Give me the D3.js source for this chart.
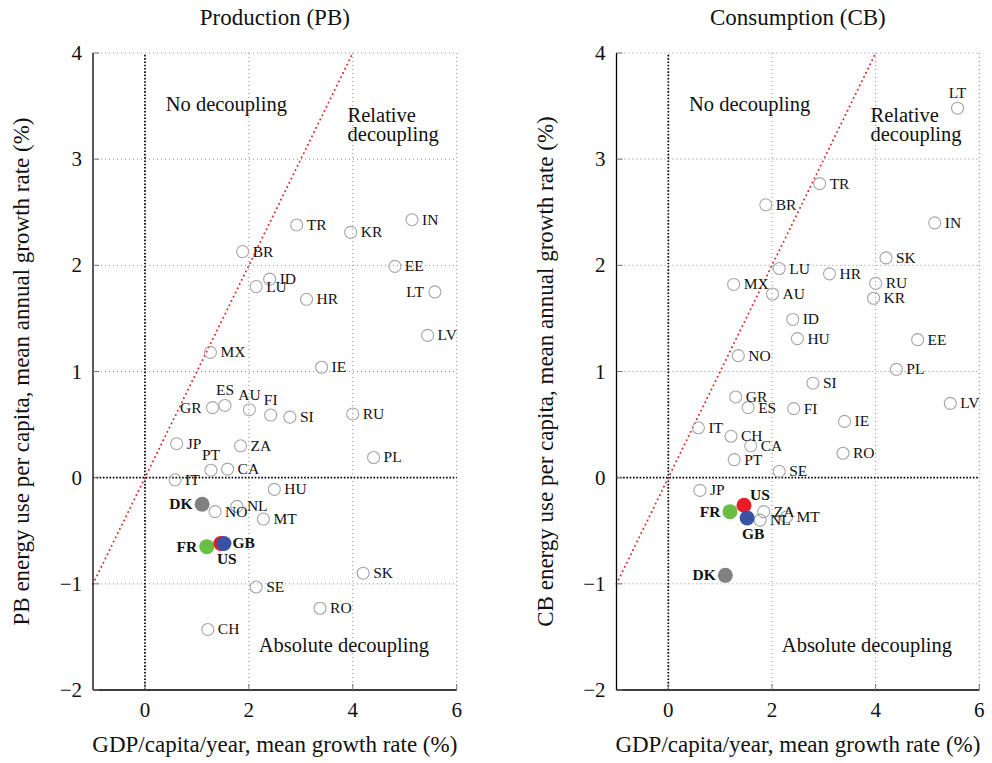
<!DOCTYPE html>
<html>
<head>
<meta charset="utf-8">
<script src="https://cdn.jsdelivr.net/npm/d3@7/dist/d3.min.js"></script>
<style>
  html, body { margin: 0; padding: 0; background: #fff; }
  svg { display: block; font-family: "Liberation Serif", "DejaVu Serif", serif; }
</style>
</head>
<body>
<svg id="chart" width="992" height="763"></svg>
<script>
// Country codes and their mean annual growth rates (%)
const countries = ["TR","KR","IN","BR","EE","ID","LU","HR","LT","LV","MX","IE",
                   "GR","ES","AU","FI","SI","RU","JP","ZA","PL","PT","CA","IT",
                   "HU","NO","NL","MT","SK","SE","RO","CH","DK","FR","US","GB"];
const gdpGrowth = [2.92, 3.96, 5.14, 1.88, 4.81, 2.40, 2.14, 3.11, 5.58, 5.44, 1.26, 3.40,
                   1.30, 1.54, 2.01, 2.42, 2.79, 4.00, 0.61, 1.84, 4.40, 1.27, 1.59, 0.58,
                   2.49, 1.35, 1.77, 2.28, 4.20, 2.14, 3.37, 1.21, 1.10, 1.19, 1.46, 1.52];
const pbGrowth  = [2.38, 2.31, 2.43, 2.13, 1.99, 1.87, 1.80, 1.68, 1.75, 1.34, 1.18, 1.04,
                   0.66, 0.68, 0.64, 0.59, 0.57, 0.60, 0.32, 0.30, 0.19, 0.07, 0.08, -0.02,
                   -0.11, -0.32, -0.27, -0.39, -0.90, -1.03, -1.23, -1.43, -0.25, -0.65, -0.62, -0.62];
const cbGrowth  = [2.77, 1.69, 2.40, 2.57, 1.30, 1.49, 1.97, 1.92, 3.48, 0.70, 1.82, 0.53,
                   0.76, 0.66, 1.73, 0.65, 0.89, 1.83, -0.12, -0.32, 1.02, 0.17, 0.30, 0.47,
                   1.31, 1.15, -0.40, -0.37, 2.07, 0.06, 0.23, 0.39, -0.92, -0.32, -0.26, -0.38];

// Highlighted countries, drawn as filled dots in this order
const highlighted = ["DK", "FR", "US", "GB"];
const highlightColors = ["#808080", "#6abd45", "#ec1c24", "#3953a4"];

const xDomain = [-1, 6];
const yDomain = [-2, 4];
const xTicks = [0, 2, 4, 6];
const yTicks = [-2, -1, 0, 1, 2, 3, 4];

const panelTitles = ["Production (PB)", "Consumption (CB)"];
const yTitles = ["PB energy use per capita, mean annual growth rate (%)",
                 "CB energy use per capita, mean annual growth rate (%)"];
const xTitle = "GDP/capita/year, mean growth rate (%)";

// Where each country's label sits relative to its dot (default: right)
const labelSides = [
  { LT: "left", ES: "above", AU: "above", FI: "above", PT: "above", GR: "left",
    DK: "left", FR: "left", US: "below", GB: "right" },
  { LT: "above", DK: "left", FR: "left", US: "aboveRight", GB: "below" }
];

const svg = d3.select("#chart");
const fmt = v => (v < 0 ? "\u2212" + Math.abs(v) : String(v));

const panels = [
  { left: 93,    right: 456.7, values: pbGrowth },
  { left: 616.5, right: 979.3, values: cbGrowth }
];
const plotTop = 53, plotBottom = 690;

panels.forEach((p, pi) => {
  const x = d3.scaleLinear().domain(xDomain).range([p.left, p.right]);
  const y = d3.scaleLinear().domain(yDomain).range([plotBottom, plotTop]);
  const g = svg.append("g");

  // grid lines (dotted gray)
  g.selectAll("line.vgrid").data(xTicks.filter(t => t !== 0)).enter().append("line")
    .attr("x1", d => x(d)).attr("x2", d => x(d)).attr("y1", y(yDomain[0])).attr("y2", y(yDomain[1]))
    .attr("stroke", "#8a8a8a").attr("stroke-width", 1).attr("stroke-dasharray", "1 3");
  g.selectAll("line.hgrid").data(yTicks.filter(t => t !== 0)).enter().append("line")
    .attr("x1", x(xDomain[0])).attr("x2", x(xDomain[1])).attr("y1", d => y(d)).attr("y2", d => y(d))
    .attr("stroke", "#8a8a8a").attr("stroke-width", 1).attr("stroke-dasharray", "1 3");

  // zero lines (dotted black)
  g.append("line").attr("x1", x(0)).attr("x2", x(0)).attr("y1", y(yDomain[0])).attr("y2", y(yDomain[1]))
    .attr("stroke", "#000").attr("stroke-width", 1.7).attr("stroke-dasharray", "1.6 1.7");
  g.append("line").attr("x1", x(xDomain[0])).attr("x2", x(xDomain[1])).attr("y1", y(0)).attr("y2", y(0))
    .attr("stroke", "#000").attr("stroke-width", 1.7).attr("stroke-dasharray", "1.6 1.7");

  // y = x reference line (red dots)
  g.append("line").attr("x1", x(-1)).attr("y1", y(-1)).attr("x2", x(4)).attr("y2", y(4))
    .attr("stroke", "#e8272a").attr("stroke-width", 1.9)
    .attr("stroke-linecap", "round").attr("stroke-dasharray", "0.1 4.6");

  // axes: solid left and bottom lines with small inward ticks
  g.append("line").attr("x1", x(xDomain[0])).attr("x2", x(xDomain[0])).attr("y1", y(yDomain[0])).attr("y2", y(yDomain[1]))
    .attr("stroke", "#000").attr("stroke-width", 1.3);
  g.append("line").attr("x1", x(xDomain[0])).attr("x2", x(xDomain[1])).attr("y1", y(yDomain[0])).attr("y2", y(yDomain[0]))
    .attr("stroke", "#000").attr("stroke-width", 1.3);
  g.selectAll("line.ytick").data(yTicks).enter().append("line")
    .attr("x1", x(xDomain[0])).attr("x2", x(xDomain[0]) + 6).attr("y1", d => y(d)).attr("y2", d => y(d))
    .attr("stroke", "#777").attr("stroke-width", 1);
  g.selectAll("line.xtick").data(xTicks).enter().append("line")
    .attr("x1", d => x(d)).attr("x2", d => x(d)).attr("y1", y(yDomain[0])).attr("y2", y(yDomain[0]) - 6)
    .attr("stroke", "#777").attr("stroke-width", 1);

  // tick labels
  g.selectAll("text.ylab").data(yTicks).enter().append("text")
    .attr("x", x(xDomain[0]) - 11).attr("y", d => y(d) + 7)
    .attr("text-anchor", "end").attr("font-size", 21).attr("fill", "#111").text(fmt);
  g.selectAll("text.xlab").data(xTicks).enter().append("text")
    .attr("x", d => x(d)).attr("y", y(yDomain[0]) + 27)
    .attr("text-anchor", "middle").attr("font-size", 21).attr("fill", "#111").text(fmt);

  // titles
  const cx = (x(xDomain[0]) + x(xDomain[1])) / 2;
  g.append("text").attr("x", cx).attr("y", 25).attr("text-anchor", "middle")
    .attr("font-size", 23).attr("fill", "#111").text(panelTitles[pi]);
  g.append("text").attr("x", cx).attr("y", 752).attr("text-anchor", "middle")
    .attr("font-size", 23).attr("fill", "#111").text(xTitle);
  const ymid = (y(yDomain[0]) + y(yDomain[1])) / 2;
  const yx = x(xDomain[0]) - 64;
  g.append("text").attr("transform", `translate(${yx},${ymid}) rotate(-90)`)
    .attr("text-anchor", "middle").attr("font-size", 23).attr("fill", "#111").text(yTitles[pi]);

  // region annotations
  const ann = g.append("g").attr("font-size", 20.5).attr("fill", "#111");
  ann.append("text").attr("x", x(0.40)).attr("y", y(3.45)).text("No decoupling");
  ann.append("text").attr("x", x(3.90)).attr("y", y(3.35)).text("Relative");
  ann.append("text").attr("x", x(3.90)).attr("y", y(3.17)).text("decoupling");
  ann.append("text").attr("x", x(2.19)).attr("y", y(-1.64)).text("Absolute decoupling");

  // points
  const pts = countries.map((c, i) => ({ code: c, gx: gdpGrowth[i], ey: p.values[i] }));
  const open = pts.filter(d => !highlighted.includes(d.code));
  const filled = highlighted.map((c, k) => Object.assign({}, pts.find(d => d.code === c), { color: highlightColors[k] }));

  g.selectAll("circle.open").data(open).enter().append("circle")
    .attr("cx", d => x(d.gx)).attr("cy", d => y(d.ey)).attr("r", 6)
    .attr("fill", "none").attr("stroke", "#a6a6a6").attr("stroke-width", 1.1);
  g.selectAll("circle.filled").data(filled).enter().append("circle")
    .attr("cx", d => x(d.gx)).attr("cy", d => y(d.ey)).attr("r", 7.5)
    .attr("fill", d => d.color);

  // labels
  const sides = labelSides[pi];
  const place = (d, r) => {
    const px = x(d.gx), py = y(d.ey);
    switch (sides[d.code] || "right") {
      case "left": return { x: px - r - 5, y: py + 5, anchor: "end" };
      case "above": return { x: px, y: py - 10, anchor: "middle" };
      case "below": return { x: px + 6, y: py + 21, anchor: "middle" };
      case "aboveRight": return { x: px + 6, y: py - 5, anchor: "start" };
      default: return { x: px + r + 4, y: py + 5, anchor: "start" };
    }
  };
  g.selectAll("text.clab").data(open).enter().append("text")
    .each(function (d) {
      const q = place(d, 6);
      d3.select(this).attr("x", q.x).attr("y", q.y).attr("text-anchor", q.anchor);
    })
    .attr("font-size", 15.5).attr("fill", "#111").text(d => d.code);
  g.selectAll("text.hlab").data(filled).enter().append("text")
    .each(function (d) {
      const q = place(d, 4.5);
      d3.select(this).attr("x", q.x).attr("y", q.y).attr("text-anchor", q.anchor);
    })
    .attr("font-size", 15.5).attr("font-weight", "bold").attr("fill", "#111").text(d => d.code);
});
</script>
</body>
</html>
